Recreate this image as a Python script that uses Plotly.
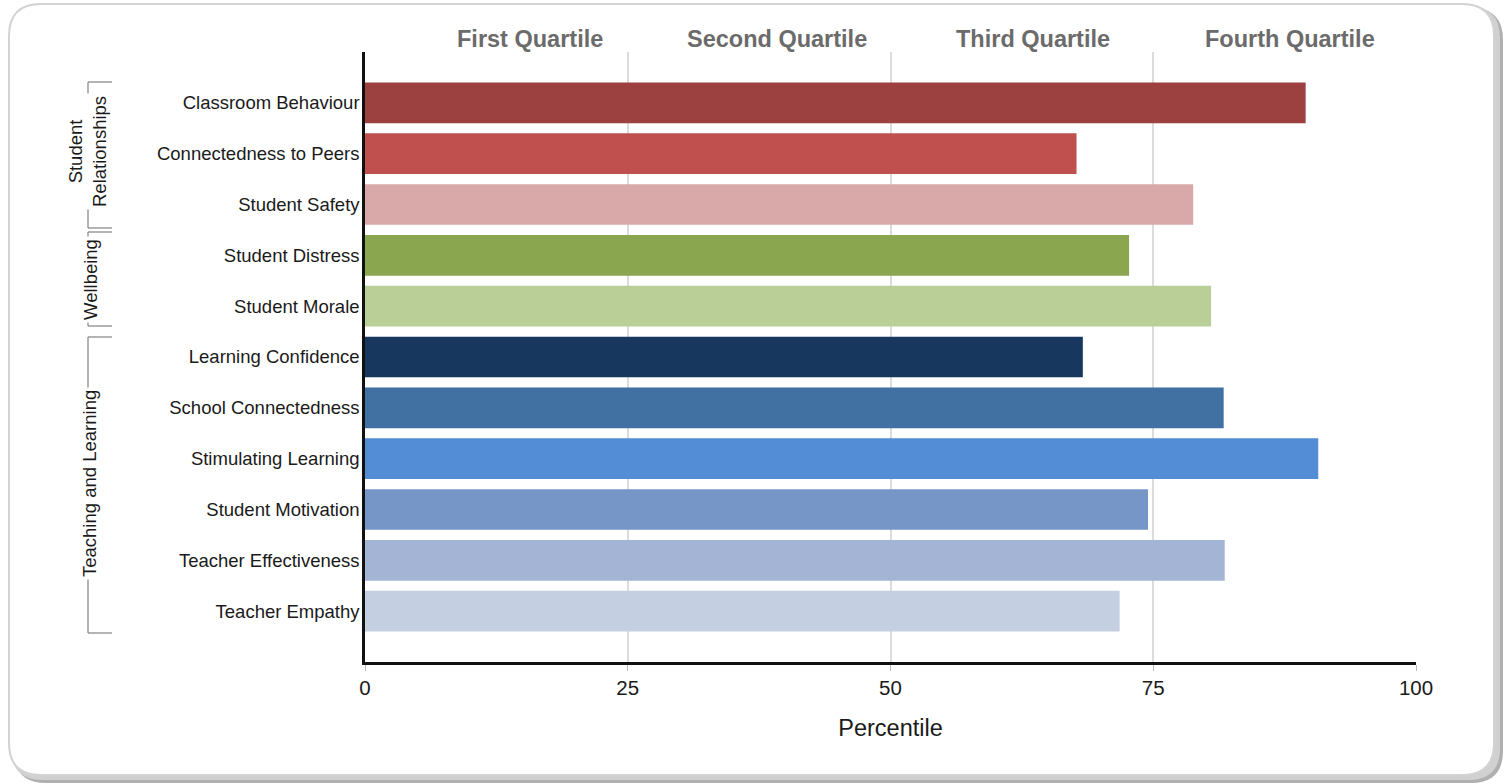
import plotly.graph_objects as go

categories = ["Classroom Behaviour", "Connectedness to Peers", "Student Safety",
              "Student Distress", "Student Morale", "Learning Confidence",
              "School Connectedness", "Stimulating Learning", "Student Motivation",
              "Teacher Effectiveness", "Teacher Empathy"]
values = [89.5, 67.7, 78.8, 72.7, 80.5, 68.3, 81.7, 90.7, 74.5, 81.8, 71.8]
colors = ["#9c4040", "#c0504d", "#d9a9a9", "#8aa64e", "#b9cf97", "#17375e",
          "#4170a2", "#538dd5", "#7696c8", "#a3b4d5", "#c4cfe2"]
quartile_labels = ["First Quartile", "Second Quartile", "Third Quartile", "Fourth Quartile"]
quartile_pos = [15.7, 39.2, 63.6, 88.0]
x_ticks = [0, 25, 50, 75, 100]
groups = ["Student<br>Relationships", "Wellbeing", "Teaching and Learning"]

W, H = 1506, 784
L, R, T, B = 365, 1416, 52, 662
FONT = "Arial, Liberation Sans"

def px(x):
    return (x - L) / (R - L)

def py(y):
    return (B - y) / (B - T)

fig = go.Figure()
fig.add_trace(go.Bar(
    y=categories, x=values, orientation="h",
    marker=dict(color=colors, line=dict(width=0)),
    width=0.8, hoverinfo="x+y",
))

shapes = []

def rrect(x0, y0, x1, y1, r, fill, line_color, lw):
    X = lambda v: px(v)
    Y = lambda v: py(v)
    path = (f"M {X(x0+r)},{Y(y0)} L {X(x1-r)},{Y(y0)} Q {X(x1)},{Y(y0)} {X(x1)},{Y(y0+r)} "
            f"L {X(x1)},{Y(y1-r)} Q {X(x1)},{Y(y1)} {X(x1-r)},{Y(y1)} "
            f"L {X(x0+r)},{Y(y1)} Q {X(x0)},{Y(y1)} {X(x0)},{Y(y1-r)} "
            f"L {X(x0)},{Y(y0+r)} Q {X(x0)},{Y(y0)} {X(x0+r)},{Y(y0)} Z")
    return dict(type="path", xref="paper", yref="paper", path=path,
                fillcolor=fill, line=dict(color=line_color, width=lw), layer="below")

# frame with shadow
shapes.append(rrect(14, 8, 1503, 783, 32, "#b0b0b0", "rgba(0,0,0,0)", 0))
shapes.append(rrect(11, 6, 1500, 780, 32, "#d0d0d0", "rgba(0,0,0,0)", 0))
shapes.append(rrect(9, 4, 1494, 775, 32, "#ffffff", "#d3d3d3", 2))

# group brackets (vertical line + top/bottom ticks)
brackets = [(82, 228), (232, 326), (337, 633)]
for (y0, y1) in brackets:
    for (a, b, c, d) in [(88, y0, 88, y1), (88, y0, 112, y0), (88, y1, 112, y1)]:
        shapes.append(dict(type="line", xref="paper", yref="paper",
                           x0=px(a), y0=py(b), x1=px(c), y1=py(d),
                           line=dict(color="#8c8c8c", width=1.3)))

fig.update_layout(shapes=shapes)

annotations = []
for lab, pos in zip(quartile_labels, quartile_pos):
    annotations.append(dict(text=f"<b>{lab}</b>", x=pos, xref="x", y=py(39), yref="paper",
                            xanchor="center", yanchor="middle",
                            showarrow=False, font=dict(size=23.5, color="#6b6b6b", family=FONT)))
group_pos = [(88, 152), (90, 280), (89, 484)]
for g, (gx, gy) in zip(groups, group_pos):
    annotations.append(dict(text=g, x=px(gx), y=py(gy), xref="paper", yref="paper",
                            xanchor="center", yanchor="middle",
                            textangle=-90, showarrow=False, bgcolor="#ffffff", borderpad=2,
                            font=dict(size=18.5, color="#1a1a1a", family=FONT)))
fig.update_layout(annotations=annotations)

fig.update_layout(
    width=W, height=H,
    margin=dict(l=L, r=W - R, t=T, b=H - B, pad=0),
    paper_bgcolor="#ffffff", plot_bgcolor="rgba(0,0,0,0)",
    showlegend=False, bargap=0.2,
    font=dict(family=FONT, color="#1a1a1a"),
    xaxis=dict(range=[0, 100], tickvals=x_ticks, ticktext=[str(v) for v in x_ticks],
               showgrid=True, gridcolor="#dcdcdc", gridwidth=2,
               showline=True, linecolor="#111111", linewidth=2.5,
               ticks="outside", ticklen=6, tickcolor="#bbbbbb", tickwidth=1,
               zeroline=False, tickfont=dict(size=20.5, color="#1a1a1a"),
               title=dict(text="Percentile", font=dict(size=23.5, color="#1a1a1a"), standoff=22)),
    yaxis=dict(categoryorder="array", categoryarray=categories, autorange=False,
               range=[len(categories), -1],
               showline=True, linecolor="#111111", linewidth=2.5, showgrid=False,
               ticks="", tickfont=dict(size=18.5, color="#1a1a1a"), ticklabelstandoff=-1),
)

fig.write_html("out.html", config={"displayModeBar": False},
               post_script="document.body.style.margin='0';document.body.style.overflow='hidden';")
